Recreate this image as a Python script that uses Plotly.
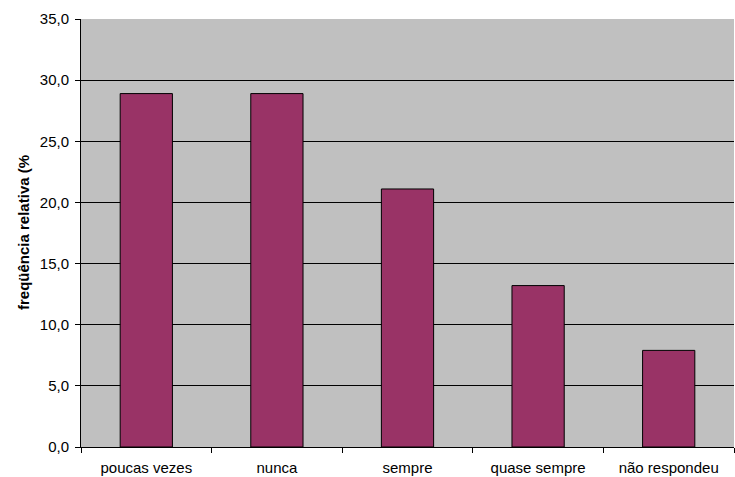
import plotly.graph_objects as go

categories = ["poucas vezes", "nunca", "sempre", "quase sempre", "não respondeu"]
values = [28.9, 28.9, 21.1, 13.2, 7.9]
y_ticks = [0, 5, 10, 15, 20, 25, 30, 35]

FONT = "Liberation Sans, Arial, sans-serif"

fig = go.Figure(
    go.Bar(
        x=categories,
        y=values,
        width=0.4,
        marker=dict(color="#993366", line=dict(color="#000000", width=1)),
    )
)

fig.update_layout(
    width=735,
    height=477,
    margin=dict(l=81, r=1, t=19, b=30),
    paper_bgcolor="#FFFFFF",
    plot_bgcolor="#C0C0C0",
    separators=",.",
    font=dict(family=FONT, size=15, color="#000000"),
    showlegend=False,
    bargap=0.6,
)

fig.update_xaxes(
    automargin=False,
    showline=True,
    linecolor="#000000",
    linewidth=1,
    ticks="outside",
    tickson="boundaries",
    ticklen=5,
    tickcolor="#000000",
    showgrid=False,
    tickfont=dict(size=15),
    ticklabelstandoff=7,
)

fig.update_yaxes(
    automargin=False,
    range=[0, 35],
    tickvals=y_ticks,
    tickformat=".1f",
    showline=True,
    linecolor="#000000",
    linewidth=1,
    ticks="outside",
    ticklen=5,
    tickcolor="#000000",
    showgrid=True,
    gridcolor="#000000",
    gridwidth=1,
    zeroline=False,
    tickfont=dict(size=15),
    ticklabelstandoff=3,
)

# vertical axis title
fig.add_annotation(
    text="<b>freqüência relativa (%</b>",
    xref="paper",
    yref="paper",
    x=0,
    y=0.5,
    xanchor="center",
    yanchor="middle",
    xshift=-58,
    textangle=-90,
    showarrow=False,
    font=dict(family=FONT, size=15, color="#000000"),
)

fig.write_html("out.html")
